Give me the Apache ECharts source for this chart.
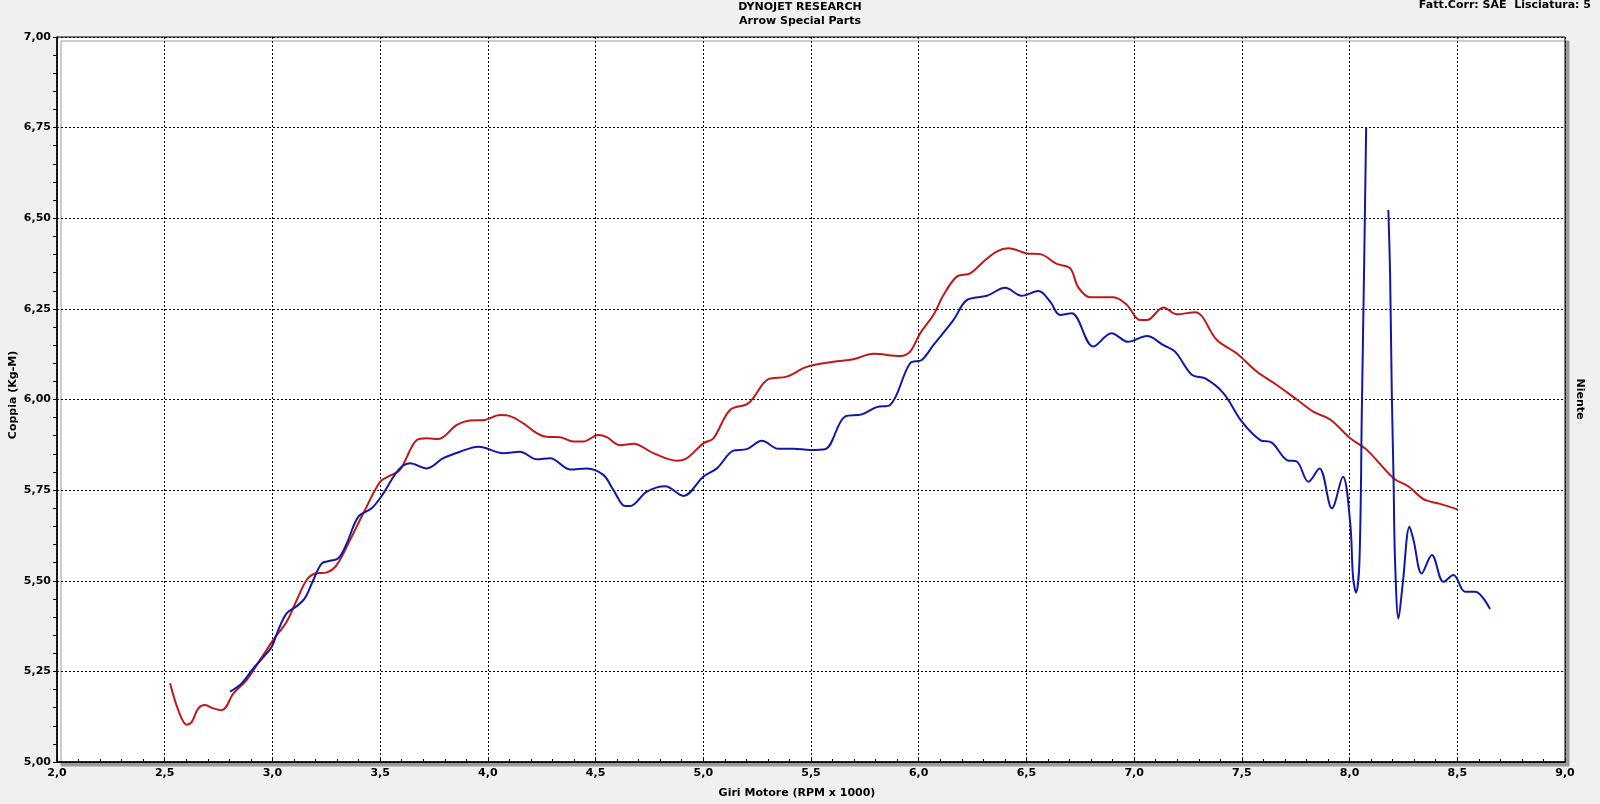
<!DOCTYPE html>
<html>
<head>
<meta charset="utf-8">
<script src="https://cdn.jsdelivr.net/npm/echarts@6/dist/echarts.min.js"></script>
<style>
  html, body { margin: 0; padding: 0; background: #f0f0f0; }
  #chart { width: 1600px; height: 804px; }
</style>
</head>
<body>
<div id="chart"></div>
<script>
// ---- Data (RPM x 1000, Coppia Kg-M) ----
const redRpm = [2.525,2.563,2.602,2.625,2.656,2.687,2.726,2.765,2.82,2.88,2.942,3.004,3.066,3.113,3.159,3.198,3.252,3.298,3.36,3.422,3.50,3.546,3.592,3.67,3.716,3.77,3.856,3.917,3.98,4.057,4.103,4.165,4.227,4.273,4.335,4.397,4.443,4.513,4.552,4.614,4.676,4.768,4.877,4.923,5.0,5.047,5.124,5.21,5.302,5.387,5.48,5.604,5.697,5.79,5.914,5.96,6.007,6.068,6.115,6.177,6.239,6.30,6.362,6.417,6.502,6.564,6.641,6.703,6.74,6.796,6.904,6.966,7.028,7.059,7.136,7.198,7.283,7.384,7.477,7.569,7.662,7.755,7.833,7.91,8.003,8.08,8.204,8.274,8.343,8.42,8.501];
const redTorque = [5.217,5.143,5.103,5.11,5.148,5.157,5.148,5.143,5.19,5.226,5.281,5.337,5.387,5.447,5.502,5.52,5.523,5.543,5.612,5.686,5.773,5.79,5.806,5.888,5.893,5.891,5.93,5.942,5.943,5.957,5.954,5.934,5.907,5.897,5.896,5.884,5.884,5.902,5.896,5.874,5.878,5.852,5.831,5.838,5.879,5.893,5.971,5.99,6.056,6.063,6.09,6.104,6.111,6.126,6.12,6.132,6.183,6.233,6.288,6.339,6.348,6.38,6.408,6.417,6.403,6.401,6.374,6.362,6.31,6.282,6.282,6.261,6.219,6.219,6.254,6.235,6.241,6.164,6.127,6.077,6.04,6.0,5.966,5.945,5.893,5.861,5.783,5.76,5.725,5.712,5.697];

const blueRpm = [2.803,2.857,2.911,2.966,2.997,3.027,3.066,3.113,3.151,3.19,3.229,3.267,3.306,3.345,3.399,3.461,3.515,3.585,3.639,3.716,3.793,3.871,3.956,4.072,4.149,4.227,4.289,4.382,4.459,4.536,4.583,4.637,4.66,4.738,4.823,4.908,5.0,5.063,5.14,5.202,5.272,5.349,5.418,5.496,5.565,5.658,5.736,5.805,5.867,5.96,6.014,6.068,6.161,6.223,6.316,6.401,6.478,6.556,6.61,6.656,6.71,6.81,6.895,6.972,7.059,7.136,7.19,7.268,7.33,7.415,7.50,7.585,7.639,7.709,7.755,7.809,7.86,7.918,7.969,8.003,8.016,8.03,8.046,8.057,8.068,8.077,8.13,8.18,8.188,8.196,8.204,8.211,8.227,8.247,8.278,8.297,8.335,8.382,8.436,8.482,8.536,8.583,8.652];
const blueTorque = [5.194,5.217,5.258,5.295,5.318,5.364,5.41,5.43,5.452,5.502,5.548,5.555,5.562,5.603,5.677,5.70,5.741,5.806,5.824,5.81,5.838,5.856,5.87,5.852,5.856,5.835,5.838,5.807,5.81,5.792,5.75,5.706,5.706,5.746,5.761,5.734,5.787,5.81,5.859,5.863,5.886,5.864,5.864,5.861,5.863,5.953,5.959,5.979,5.985,6.10,6.109,6.15,6.219,6.274,6.286,6.308,6.286,6.299,6.27,6.233,6.238,6.146,6.183,6.159,6.175,6.15,6.132,6.068,6.058,6.017,5.939,5.888,5.881,5.833,5.829,5.773,5.81,5.70,5.787,5.659,5.511,5.467,5.557,5.971,6.385,6.751,null,6.523,6.348,6.017,5.787,5.557,5.396,5.493,5.649,5.612,5.52,5.571,5.497,5.516,5.47,5.47,5.422];

const titleLines = ['DYNOJET RESEARCH', 'Arrow Special Parts'];
const infoText = 'Fatt.Corr: SAE  Lisciatura: 5';
const xName = 'Giri Motore (RPM x 1000)';
const yName = 'Coppia (Kg-M)';
const rightName = 'Niente';

const toPairs = (xs, ys) => xs.map((x, i) => [x, ys[i] === null ? '-' : ys[i]]);

const FONT = '"DejaVu Sans", Verdana, sans-serif';
const chart = echarts.init(document.getElementById('chart'));

chart.setOption({
  backgroundColor: '#f0f0f0',
  animation: false,
  grid: {
    left: 57, top: 37, right: 35, bottom: 42,
    show: true,
    backgroundColor: '#ffffff',
    borderColor: '#000000',
    borderWidth: 1,
    shadowColor: '#9a9a9a',
    shadowOffsetX: 4,
    shadowOffsetY: 4,
    shadowBlur: 0
  },
  xAxis: {
    type: 'value',
    min: 2, max: 9, interval: 0.5,
    axisLine: { show: true, lineStyle: { color: '#000', width: 1.5 } },
    axisTick: { show: true, inside: true, length: 4, lineStyle: { color: '#000' } },
    minorTick: { show: true, splitNumber: 5, length: 3, lineStyle: { color: '#000' } },
    splitLine: { show: true, lineStyle: { color: '#000', width: 1, type: [2, 2] } },
    axisLabel: {
      margin: 6, color: '#000', fontFamily: FONT, fontWeight: 'bold', fontSize: 11,
      formatter: v => v.toFixed(1).replace('.', ',')
    }
  },
  yAxis: {
    type: 'value',
    min: 5, max: 7, interval: 0.25,
    axisLine: { show: true, lineStyle: { color: '#000', width: 1.5 } },
    axisTick: { show: true, length: 4, lineStyle: { color: '#000' } },
    minorTick: { show: true, splitNumber: 5, length: 4, lineStyle: { color: '#000' } },
    splitLine: { show: true, lineStyle: { color: '#000', width: 1, type: [2, 2] } },
    axisLabel: {
      margin: 6, color: '#000', fontFamily: FONT, fontWeight: 'bold', fontSize: 11,
      formatter: v => v.toFixed(2).replace('.', ',')
    }
  },
  series: [
    {
      name: 'Run 1', type: 'line', showSymbol: false,
      data: toPairs(redRpm, redTorque),
      smooth: 0.35,
      lineStyle: { color: '#c01818', width: 2 },
      itemStyle: { color: '#c01818' }
    },
    {
      name: 'Run 2', type: 'line', showSymbol: false,
      data: toPairs(blueRpm, blueTorque),
      connectNulls: false,
      smooth: 0.35,
      lineStyle: { color: '#1018a8', width: 2 },
      itemStyle: { color: '#1018a8' }
    }
  ],
  graphic: [
    { type: 'text', left: 'center', top: 0, style: { text: titleLines.join('\n'), fontFamily: FONT, fontWeight: 'bold', fontSize: 11, lineHeight: 14, fill: '#000', textAlign: 'center' } },
    { type: 'text', right: 9, top: 0, style: { text: infoText, fontFamily: FONT, fontWeight: 'bold', fontSize: 11, fill: '#000' } },
    { type: 'text', x: 797, y: 793, style: { text: xName, fontFamily: FONT, fontWeight: 'bold', fontSize: 11, fill: '#000', textAlign: 'center', textVerticalAlign: 'middle' } },
    { type: 'text', x: 13, y: 395, rotation: Math.PI / 2, style: { text: yName, fontFamily: FONT, fontWeight: 'bold', fontSize: 11, fill: '#000', textAlign: 'center', textVerticalAlign: 'middle' } },
    { type: 'text', x: 1580, y: 399, rotation: -Math.PI / 2, style: { text: rightName, fontFamily: FONT, fontWeight: 'bold', fontSize: 11, fill: '#000', textAlign: 'center', textVerticalAlign: 'middle' } }
  ]
});
</script>
</body>
</html>
